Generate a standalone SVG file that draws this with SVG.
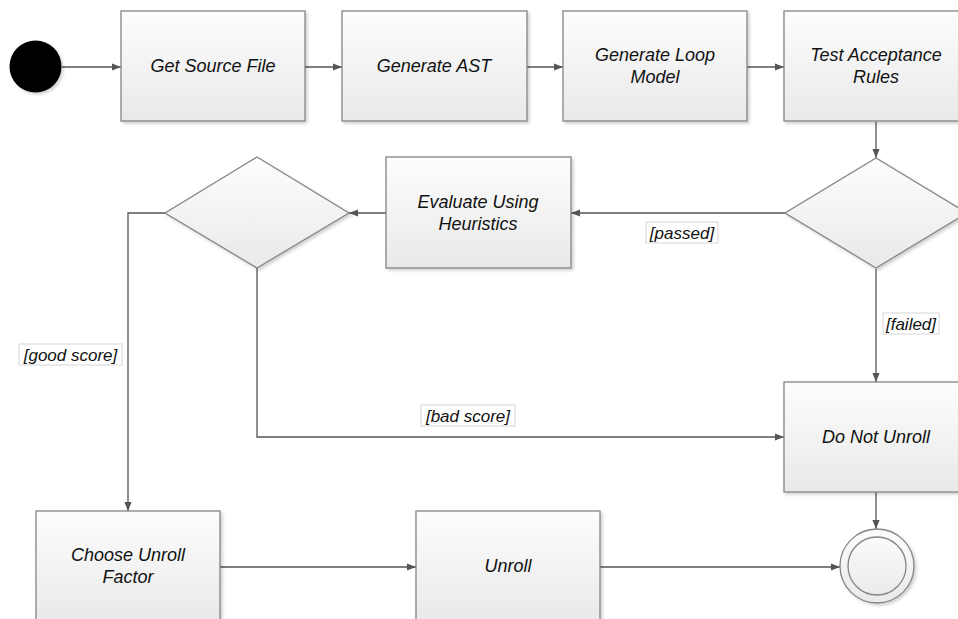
<svg xmlns="http://www.w3.org/2000/svg" width="958" height="619" viewBox="0 0 958 619">
<defs>
<linearGradient id="g" x1="0" y1="0" x2="0" y2="1">
<stop offset="0" stop-color="#fdfdfd"/>
<stop offset="1" stop-color="#e9e9e9"/>
</linearGradient>
<filter id="sh" x="-10%" y="-10%" width="130%" height="130%">
<feDropShadow dx="2" dy="2" stdDeviation="1.5" flood-color="#000" flood-opacity="0.18"/>
</filter>
<marker id="ar" viewBox="0 0 10 10" refX="10" refY="5" markerWidth="9" markerHeight="9" markerUnits="userSpaceOnUse" orient="auto">
<path d="M0,1 L10,5 L0,9 z" fill="#555"/>
</marker>
</defs>
<style>
.n{fill:url(#g);stroke:#858585;stroke-width:1.3;filter:url(#sh)}
.t{font-family:"Liberation Sans",Arial,sans-serif;font-style:italic;font-size:18px;fill:#111;text-anchor:middle}
.l{font-family:"Liberation Sans",Arial,sans-serif;font-style:italic;font-size:17px;fill:#111;text-anchor:middle}
.lb{fill:#fff;stroke:#d6d6d6;stroke-width:1}
.c{fill:none;stroke:#555;stroke-width:1.3;marker-end:url(#ar)}
</style>
<rect width="958" height="619" fill="#fff"/>
<g id="connectors">
<path class="c" d="M62,67 H121"/>
<path class="c" d="M305,67 H342"/>
<path class="c" d="M527,67 H563"/>
<path class="c" d="M747,67 H784"/>
<path class="c" d="M876,122 V158"/>
<path class="c" d="M785,213 H571"/>
<path class="c" d="M386,213 H349"/>
<path class="c" d="M165,213 H128 V511"/>
<path class="c" d="M257,268 V437 H784"/>
<path class="c" d="M876,269 V382"/>
<path class="c" d="M876,492 V529"/>
<path class="c" d="M220,567 H416"/>
<path class="c" d="M600,567 H840"/>
<g id="lbl-passed"><rect class="lb" x="646" y="222" width="72" height="21"/><text class="l" x="682" y="239">[passed]</text></g>
<g id="lbl-failed"><rect class="lb" x="883" y="313" width="56" height="21"/><text class="l" x="911" y="330">[failed]</text></g>
<g id="lbl-good"><rect class="lb" x="19" y="344" width="103" height="21"/><text class="l" x="70.5" y="361">[good score]</text></g>
<g id="lbl-bad"><rect class="lb" x="421" y="405" width="94" height="21"/><text class="l" x="468" y="422">[bad score]</text></g>
</g>
<g id="start"><circle cx="35.5" cy="66.5" r="26" fill="#000" filter="url(#sh)"/></g>
<g id="get-source"><rect class="n" x="121" y="11" width="184" height="110"/><text class="t" x="213" y="72">Get Source File</text></g>
<g id="gen-ast"><rect class="n" x="342" y="11" width="185" height="110"/><text class="t" x="434" y="72">Generate AST</text></g>
<g id="gen-loop"><rect class="n" x="563" y="11" width="184" height="110"/><text class="t" x="655" y="61">Generate Loop</text><text class="t" x="655" y="83">Model</text></g>
<g id="test-rules"><rect class="n" x="784" y="11" width="184" height="110"/><text class="t" x="876" y="61">Test Acceptance</text><text class="t" x="876" y="83">Rules</text></g>
<g id="dec-accept"><path class="n" d="M876,158 L967,213 L876,268 L785,213 Z"/></g>
<g id="evaluate"><rect class="n" x="386" y="157" width="185" height="111"/><text class="t" x="478" y="208">Evaluate Using</text><text class="t" x="478" y="230">Heuristics</text></g>
<g id="dec-score"><path class="n" d="M257,157 L349,213 L257,268 L165,213 Z"/></g>
<g id="do-not-unroll"><rect class="n" x="784" y="382" width="184" height="110"/><text class="t" x="876" y="443">Do Not Unroll</text></g>
<g id="choose"><rect class="n" x="36" y="511" width="184" height="112"/><text class="t" x="128" y="561">Choose Unroll</text><text class="t" x="128" y="583">Factor</text></g>
<g id="unroll"><rect class="n" x="416" y="511" width="184" height="112"/><text class="t" x="508" y="572">Unroll</text></g>
<g id="end"><circle class="n" cx="877" cy="566" r="37"/><circle cx="877" cy="566" r="29" fill="none" stroke="#858585" stroke-width="1.3"/></g>
</svg>
